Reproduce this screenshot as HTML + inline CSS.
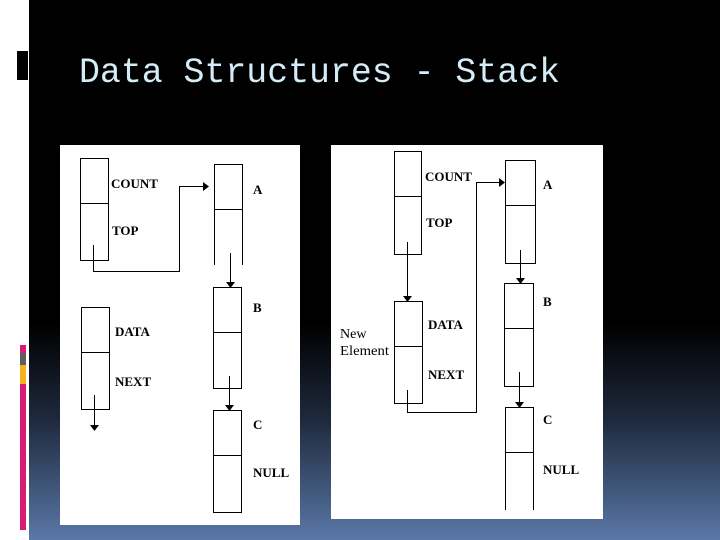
<!DOCTYPE html>
<html><head><style>
html,body{margin:0;padding:0;width:720px;height:540px;overflow:hidden}
body{background:#fff}
</style></head><body>
<svg width="720" height="540" xmlns="http://www.w3.org/2000/svg" style="display:block">
<defs>
<linearGradient id="bg" x1="0" y1="0" x2="0" y2="1">
<stop offset="0" stop-color="#000"/>
<stop offset="0.6" stop-color="#000"/>
<stop offset="0.78" stop-color="#1f2a3e"/>
<stop offset="1" stop-color="#5a78a8"/>
</linearGradient>
</defs>
<rect x="0" y="0" width="720" height="540" fill="#fff"/>
<rect x="29" y="0" width="691" height="540" fill="url(#bg)"/>
<rect x="17" y="51" width="11" height="29" fill="#000"/>
<rect x="20" y="345" width="6" height="8" fill="#d81b74"/>
<rect x="20" y="353" width="6" height="12" fill="#5e5e5e"/>
<rect x="20" y="365" width="6" height="19" fill="#f5b21b"/>
<rect x="20" y="384" width="6" height="146" fill="#d81b74"/>
<text x="79" y="82" font-family="Liberation Mono, monospace" font-size="35" fill="#d4ecf8" textLength="481" lengthAdjust="spacingAndGlyphs">Data Structures - Stack</text>

<rect x="60" y="145" width="240" height="380" fill="#fff"/>
<rect x="331" y="145" width="272" height="374" fill="#fff"/>

<g stroke="#000" stroke-width="1" fill="none">
<rect x="80.5" y="158.5" width="28" height="102"/><line x1="80" y1="203.5" x2="109" y2="203.5"/>
<polyline points="93.5,245 93.5,271.5 179.5,271.5 179.5,186.5 204,186.5"/>
<polyline points="214.5,265 214.5,164.5 242.5,164.5 242.5,265"/><line x1="214" y1="209.5" x2="243" y2="209.5"/>
<line x1="230.5" y1="253" x2="230.5" y2="282"/>
<rect x="213.5" y="287.5" width="28" height="101"/><line x1="213" y1="332.5" x2="242" y2="332.5"/>
<line x1="229.5" y1="376" x2="229.5" y2="405"/>
<rect x="213.5" y="410.5" width="28" height="102"/><line x1="213" y1="455.5" x2="242" y2="455.5"/>
<rect x="81.5" y="307.5" width="28" height="102"/><line x1="81" y1="352.5" x2="110" y2="352.5"/>
<line x1="94.5" y1="395" x2="94.5" y2="425"/>
<rect x="394.5" y="151.5" width="27" height="103"/><line x1="394" y1="196.5" x2="422" y2="196.5"/>
<line x1="407.5" y1="242" x2="407.5" y2="296"/>
<rect x="394.5" y="301.5" width="28" height="102"/><line x1="394" y1="346.5" x2="423" y2="346.5"/>
<polyline points="407.5,390 407.5,412.5 476.5,412.5 476.5,182.5 500,182.5"/>
<rect x="505.5" y="160.5" width="30" height="103"/><line x1="505" y1="205.5" x2="536" y2="205.5"/>
<line x1="520.5" y1="250" x2="520.5" y2="278"/>
<rect x="504.5" y="283.5" width="29" height="103"/><line x1="504" y1="328.5" x2="534" y2="328.5"/>
<line x1="519.5" y1="372" x2="519.5" y2="402"/>
<polyline points="505.5,510 505.5,407.5 533.5,407.5 533.5,510"/><line x1="505" y1="452.5" x2="534" y2="452.5"/>
</g>
<g fill="#000">
<polygon points="203,182 209,186.5 203,191"/>
<polygon points="226,282 235,282 230.5,288"/>
<polygon points="225,405 234,405 229.5,411"/>
<polygon points="90,425 99,425 94.5,431"/>
<polygon points="403,296 412,296 407.5,302"/>
<polygon points="499,178 505,182.5 499,187"/>
<polygon points="516,278 525,278 520.5,284"/>
<polygon points="515,402 524,402 519.5,408"/>
</g>
<g font-family="Liberation Serif, serif" font-size="13" font-weight="bold" fill="#000">
<text x="111" y="188">COUNT</text>
<text x="112" y="235">TOP</text>
<text x="253" y="194">A</text>
<text x="253" y="312">B</text>
<text x="253" y="429">C</text>
<text x="253" y="477">NULL</text>
<text x="115" y="336">DATA</text>
<text x="115" y="386">NEXT</text>
<text x="425" y="181">COUNT</text>
<text x="426" y="227">TOP</text>
<text x="428" y="329">DATA</text>
<text x="428" y="379">NEXT</text>
<text x="543" y="189">A</text>
<text x="543" y="306">B</text>
<text x="543" y="424">C</text>
<text x="543" y="474">NULL</text>
</g>
<g font-family="Liberation Serif, serif" font-size="14" fill="#000">
<text x="340" y="338">New</text>
<text x="340" y="355" textLength="49" lengthAdjust="spacingAndGlyphs">Element</text>
</g>
</svg>
</body></html>
